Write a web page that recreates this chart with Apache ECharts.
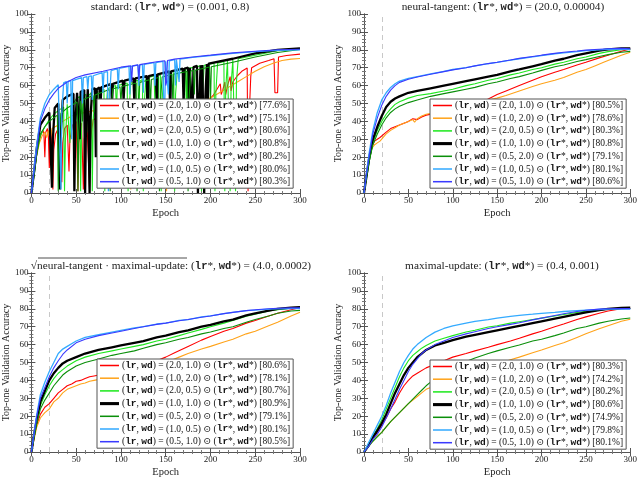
<!DOCTYPE html>
<html><head><meta charset="utf-8">
<script src="https://cdn.jsdelivr.net/npm/echarts@6/dist/echarts.min.js"></script>
<style>html,body{margin:0;padding:0;background:#fff}#c{width:640px;height:479px}</style>
</head><body><div id="c"></div>
<script>
// ---------- labels ----------
const pairs = ["(2.0, 1.0)", "(1.0, 2.0)", "(2.0, 0.5)", "(1.0, 1.0)", "(0.5, 2.0)", "(1.0, 0.5)", "(0.5, 1.0)"];
const finalsStd = ["77.6", "75.1", "80.6", "80.8", "80.2", "80.0", "80.3"];
const finalsNtk = ["80.5", "78.6", "80.3", "80.8", "79.1", "80.1", "80.6"];
const finalsSqrt = ["80.6", "78.1", "80.7", "80.9", "79.1", "80.1", "80.5"];
const finalsMup = ["80.3", "74.2", "80.2", "80.6", "74.9", "79.8", "80.1"];
const titleStd = "standard: ({m|lr}*, {m|wd}*) = (0.001, 0.8)";
const titleNtk = "neural-tangent: ({m|lr}*, {m|wd}*) = (20.0, 0.00004)";
const titleSqrt = "√neural-tangent · maximal-update: ({m|lr}*, {m|wd}*) = (4.0, 0.0002)";
const titleMup = "maximal-update: ({m|lr}*, {m|wd}*) = (0.4, 0.001)";
const warmupEpoch = 20;

// ---------- standard ----------
const stdRed = [[0,0],[3,12],[6,22],[9,30],[11,33],[13,35],[14,33],[15,20],[16,34],[18,36],[19,31],[20,14],[21,33],[22,35],[23,18],[24,2],[25,24],[27,33],[30,36],[32,37],[34,6],[35,28],[37,36],[40,38],[42,12],[43,30],[46,38],[50,40],[52,1],[53,28],[56,39],[58,2],[59,30],[62,40],[65,1],[66,30],[69,41],[75,42],[85,43],[95,44],[110,45],[125,45],[140,46],[160,47],[180,48],[195,50],[203,54.5],[211,61],[212,55],[214,58],[216,62],[217,55],[219,60],[222,65],[223,57],[225,62],[230,65.5],[235,68],[241,69.8],[242,1],[243,40],[245,65],[246,70],[255,72.5],[265,74],[271,75],[272,56],[275,56],[276,76],[285,76.8],[300,77.6]];
const stdOrange = [[0,0],[3,11],[6,21],[9,28],[12,32],[15,34],[17,31],[19,35],[21,30],[23,36],[25,37],[30,38],[35,40],[40,41.5],[45,43],[50,44],[60,45],[70,46],[80,46.5],[100,47],[110,47.5],[111,2],[112,40],[114,47.5],[130,48],[150,49],[151,1],[152,40],[154,49],[170,50.5],[185,51.5],[200,53],[210,56],[220,59],[230,62],[240,65],[250,68],[260,70.5],[270,72.5],[280,74],[290,74.8],[300,75.1]];
const stdLime = [[0,0],[3,10],[6,22],[10,32],[15,37],[20,41],[25,44],[30,46],[36,48],[37,1],[38,30],[40,49.5],[42,50],[43,28],[44,48],[50,52.5],[54,54],[55,1],[56,35],[58,54.5],[61,55],[62,34],[63,54],[67,56],[68,1],[69,40],[71,56.5],[74,57],[75,40],[76,57],[81,58],[82,1],[83,42],[85,58.2],[94,60],[95,45],[96,60],[107,61.5],[108,1],[109,45],[111,61.7],[119,63],[120,40],[121,62.5],[124,63.5],[125,1],[126,50],[128,64],[137,65.5],[138,50],[139,65.5],[144,66],[145,1],[146,52],[148,66.5],[159,68],[160,1],[161,55],[163,68.3],[172,69.5],[173,50],[174,69.5],[189,71],[190,1],[191,55],[193,71.3],[204,72.5],[205,1],[206,56],[208,72.5],[215,73.5],[216,1],[217,58],[219,73.8],[221,74],[222,1],[223,60],[225,74.5],[227,74.6],[228,1],[229,62],[231,75],[250,77],[275,79.5],[300,80.6]];
const stdBlack = [[0,0],[3,12],[6,25],[10,38],[15,42],[20,45],[22,46],[23,3],[24,30],[26,47.5],[30,50],[31,51],[32,2],[33,35],[35,52],[40,54],[47,55.5],[48,1],[49,38],[51,56],[53,56.5],[54,30],[55,56.5],[59,57.5],[60,0],[61,40],[63,58],[64,58],[65,0],[66,42],[68,58.2],[71,58.5],[72,20],[73,58],[76,59],[77,45],[78,59],[89,61],[90,50],[91,61],[102,62.8],[103,52],[104,62.8],[114,64],[115,50],[116,64],[129,65.3],[130,30],[131,65.3],[139,66.3],[140,52],[141,66.3],[154,68],[155,45],[156,68],[169,69.5],[170,50],[171,69.5],[175,70],[176,48],[177,70],[179,70.3],[180,40],[181,70.3],[185,71],[186,0],[187,45],[189,71.3],[190,45],[191,71.5],[192,71.5],[193,0],[194,50],[196,72],[197,50],[198,72.3],[200,72.5],[225,75],[250,78],[275,80],[300,80.8]];
const stdDark = [[0,0],[3,10],[6,22],[10,33],[15,37],[20,40],[25,42],[29,43.5],[30,1],[31,30],[33,44.5],[40,47.5],[51,50.8],[52,1],[53,35],[55,51.5],[56,52],[57,40],[58,52.2],[69,54.5],[70,45],[71,54.7],[87,57.8],[88,1],[89,45],[91,58.2],[99,59.3],[100,50],[101,59.5],[117,61.5],[118,1],[119,48],[121,61.8],[132,63.3],[133,48],[134,63.4],[142,64.5],[143,1],[144,50],[146,64.8],[157,66.3],[158,50],[159,66.4],[174,67.9],[175,1],[176,52],[178,68.2],[181,68.5],[182,55],[183,68.6],[199,70.4],[200,50],[201,70.5],[225,73],[250,76],[275,78.5],[300,80.2]];
const stdSky = [[0,0],[3,14],[6,27],[10,42],[15,50],[20,55],[25,58],[30,60.5],[32,61],[33,2],[34,45],[36,61.5],[39,62.3],[40,50],[41,62.3],[44,62.8],[45,30],[46,62.8],[56,64.5],[57,50],[58,64.5],[62,65],[63,58],[64,65],[67,65.5],[68,52],[69,65.5],[79,67.3],[80,56],[81,67.4],[85,67.8],[86,1],[87,50],[89,68.3],[96,69.5],[97,58],[98,69.6],[109,70.8],[110,55],[111,70.8],[119,71.4],[120,60],[121,71.5],[124,71.8],[125,56],[126,71.8],[137,72.8],[138,60],[139,72.8],[147,73.5],[148,38],[149,50],[150,73.6],[152,73.7],[153,55],[154,73.8],[160,74.5],[161,60],[162,74.5],[164,74.7],[165,62],[166,74.8],[180,75.8],[200,76.8],[225,78],[250,79],[275,79.7],[300,80]];
const stdBlue = [[0,0],[3,12],[6,24],[10,40],[15,47],[20,52],[25,55.5],[30,58.5],[40,62],[50,64.5],[60,66],[80,68],[100,70.3],[111,71],[112,62],[113,71],[119,71.6],[120,63],[121,71.7],[140,73.3],[149,73.9],[150,60],[151,62],[152,74],[160,74.8],[180,76],[200,77],[225,78.3],[250,79.2],[275,80],[300,80.3]];

// ---------- neural-tangent ----------
const ntkRed = [[0,0],[3,10],[6,20],[9,26],[12,29],[15,30],[18,31],[20,32],[25,34],[30,36],[35,37],[40,38],[45,39],[50,40],[55,41.5],[60,41],[65,42.5],[70,43.5],[80,44.5],[90,45.5],[100,46.5],[115,48],[130,50.5],[140,52.5],[150,55],[160,57],[175,60],[190,63],[200,65],[215,67.5],[225,69],[240,71.5],[250,73],[265,75.5],[275,77],[285,78.5],[300,80.5]];
const ntkOrange = [[0,0],[3,10],[6,19],[9,25],[12,27],[15,28],[18,29],[20,30],[25,33],[30,35],[35,36.5],[40,38],[45,39],[50,40],[55,41],[57,39.5],[60,41.5],[65,43],[70,44],[80,45],[90,46],[100,47],[115,48.5],[130,50.5],[140,52],[150,53],[160,54.5],[175,57],[190,59.5],[200,61],[215,63],[225,64.5],[240,67.5],[250,69],[260,71],[270,73],[280,75],[290,77],[300,78.6]];
const ntkLime = [[0,0],[3,9],[6,18],[10,28],[15,35],[20,40],[25,44],[30,47],[35,49.5],[40,51],[50,53],[60,54.5],[75,55.5],[90,57],[100,58],[115,60],[125,61],[140,63],[150,64],[165,66],[175,67],[190,69],[200,70],[215,72],[225,73],[240,75],[250,76],[265,78],[275,79],[290,80],[300,80.3]];
const ntkBlack = [[0,0],[3,10],[6,20],[10,30],[15,37],[20,43],[25,48],[30,51],[35,52.8],[40,54],[50,56],[60,57],[75,58.5],[90,60],[100,61],[115,62.5],[125,63.5],[140,65],[150,66],[165,68],[175,69],[190,70.8],[200,72],[215,74],[225,75],[240,77],[250,78],[265,79.5],[275,80.2],[290,80.8],[300,80.8]];
const ntkDark = [[0,0],[3,9],[6,18],[10,27],[15,33],[20,38],[25,42],[30,45],[35,47],[40,48.5],[50,50.5],[60,52],[75,54],[90,55.5],[100,56.5],[115,58],[125,59],[140,61],[150,62],[165,64],[175,65],[190,67],[200,68.5],[215,70.5],[225,71.5],[240,73.5],[250,74.5],[265,76.3],[275,77.3],[290,78.6],[300,79.1]];
const ntkSky = [[0,0],[3,12],[6,23],[10,35],[15,45],[20,52],[25,56],[30,59],[35,61],[40,62.5],[50,64],[60,65],[75,66.5],[90,68],[100,69],[115,70],[125,71],[140,72.3],[150,73],[165,74.2],[175,75],[190,76],[200,76.8],[215,77.8],[225,78.3],[240,79],[250,79.5],[265,80],[275,80.3],[290,80.3],[300,80.1]];
const ntkBlue = [[0,0],[3,11],[6,21],[10,33],[15,42],[20,49],[25,54],[30,57.5],[35,60],[40,61.8],[50,63.5],[60,64.8],[75,66.3],[90,67.8],[100,68.8],[115,70],[125,71],[140,72.3],[150,73],[165,74.3],[175,75.2],[190,76.3],[200,77],[215,78],[225,78.6],[240,79.3],[250,79.8],[265,80.3],[275,80.6],[290,80.8],[300,80.6]];

// ---------- sqrt(ntk * mup) ----------
const sqRed = [[0,0],[3,8],[6,15],[10,21],[15,25],[20,27],[25,30],[30,33],[35,35],[40,37],[45,38],[50,39.5],[55,40],[60,41],[65,42],[70,42.5],[80,43.5],[90,44.5],[100,45.5],[115,47],[130,49],[140,51],[150,53],[160,55.5],[175,59],[190,62.5],[200,64.5],[215,67.5],[225,69],[240,72],[250,73.5],[265,76],[275,77.5],[290,79.5],[300,80.6]];
const sqOrange = [[0,0],[3,7],[6,14],[10,19],[15,22],[20,24],[25,28],[30,30],[35,33],[40,35],[45,36],[50,37],[55,38],[60,38.5],[65,39.5],[70,40],[80,41],[90,42],[100,43],[120,45.5],[140,48.5],[155,51],[165,53],[175,55],[190,57.5],[200,59],[215,61.5],[225,63],[240,66],[250,67.5],[265,70.5],[275,72.5],[290,76],[300,78.1]];
const sqLime = [[0,0],[3,9],[6,17],[10,26],[15,32],[20,37],[25,41],[30,44],[35,46],[40,48],[50,51],[60,53],[75,55],[90,56.5],[100,57.5],[115,59],[125,60],[140,62],[150,63],[165,65],[175,66.5],[190,68.5],[200,70],[215,72],[225,73.5],[240,75.8],[250,77],[265,78.8],[275,79.5],[290,80.3],[300,80.7]];
const sqBlack = [[0,0],[3,10],[6,18],[10,28],[15,34],[20,40],[25,44],[30,47],[35,49.5],[40,51],[50,53],[60,55],[75,57],[90,58.5],[100,59.5],[115,61],[125,62],[140,64],[150,65],[165,67],[175,68],[190,70],[200,71],[215,73],[225,74],[240,76.3],[250,77.5],[265,79],[275,80],[290,80.7],[300,80.9]];
const sqDark = [[0,0],[3,8],[6,16],[10,24],[15,29],[20,33],[25,37],[30,40],[35,43],[40,45],[50,48],[60,50],[75,52],[90,54],[100,55],[115,56.5],[125,58],[140,60],[150,61],[165,63],[175,64],[190,66],[200,67],[215,69],[225,70],[240,72.5],[250,74],[265,76],[275,77.5],[290,78.8],[300,79.1]];
const sqSky = [[0,0],[3,11],[6,21],[10,32],[15,39],[20,45],[25,50],[30,55],[35,57.5],[40,59],[50,62],[60,64],[75,65.5],[90,67],[100,68],[115,69.3],[125,70],[140,71.5],[150,72],[165,73.5],[175,74],[190,75.5],[200,76],[215,77.3],[225,78],[240,79],[250,79.3],[265,79.8],[275,80],[290,80.1],[300,80.1]];
const sqBlue = [[0,0],[3,10],[6,20],[10,30],[15,36],[20,42],[25,47],[30,51],[35,54.5],[40,57],[50,61],[60,63],[75,65],[90,66.5],[100,67.5],[115,69],[125,70],[140,71.3],[150,72],[165,73.3],[175,74],[190,75.3],[200,76],[215,77.3],[225,78],[240,79],[250,79.5],[265,80],[275,80.3],[290,80.5],[300,80.5]];

// ---------- maximal-update ----------
const muRed = [[0,0],[5,4],[10,8],[15,11],[20,15],[25,19],[30,24],[35,28],[40,33],[45,37],[50,40],[55,42.5],[60,44],[70,47],[80,49],[90,51],[100,53],[115,55],[125,56.5],[140,58.5],[150,60],[165,62],[175,63.5],[190,66],[200,67.5],[215,70],[225,71.5],[240,74],[250,75.5],[265,77.5],[275,78.8],[290,80],[300,80.3]];
const muOrange = [[0,0],[5,3],[10,6],[15,9],[20,11],[25,14],[30,17],[35,19.5],[40,22],[45,24.5],[50,27],[55,29],[60,31],[65,33],[70,35],[75,36],[80,37],[90,39],[100,41],[115,43.5],[125,45],[140,47.5],[150,49],[165,51.5],[175,53],[190,55.5],[200,57],[215,59.5],[225,61],[240,64],[250,66],[265,68.8],[275,70.5],[290,73],[300,74.2]];
const muLime = [[0,0],[5,4],[10,9],[15,13],[20,18],[25,24],[30,30],[35,36],[40,42],[45,47],[50,51],[55,54],[60,56],[65,58],[70,59.5],[80,62],[90,63.5],[100,65],[115,67],[125,68],[140,69.8],[150,70.5],[165,72],[175,72.8],[190,74],[200,74.8],[215,76],[225,76.8],[240,78],[250,78.6],[265,79.4],[275,79.8],[290,80.1],[300,80.2]];
const muBlack = [[0,0],[5,3.5],[10,8],[15,12],[20,16],[25,21],[30,27],[35,33],[40,38],[45,43],[50,47],[55,50],[60,53],[65,55],[70,57],[80,59.5],[90,61],[100,62.5],[115,64.5],[125,65.5],[140,67],[150,68],[165,69.5],[175,70.5],[190,72],[200,73],[215,74.5],[225,75.5],[240,77],[250,78],[265,79.3],[275,80],[290,80.5],[300,80.6]];
const muDark = [[0,0],[5,3],[10,6],[15,8.5],[20,11],[25,14],[30,17],[35,19.5],[40,22],[45,24.5],[50,27],[55,29.5],[60,32],[65,34.5],[70,37],[75,39],[80,41],[90,44],[100,47],[115,50.5],[125,52.5],[140,55],[150,56.5],[165,58.5],[175,59.8],[190,62],[200,63],[215,65],[225,66.5],[240,69],[250,70],[265,72],[275,73],[290,74.3],[300,74.9]];
const muSky = [[0,0],[5,5],[10,10],[15,15],[20,20],[25,26],[30,33],[35,39],[40,45],[45,50],[50,54],[55,57.5],[60,60],[65,62],[70,64],[80,67],[90,69],[100,70.5],[115,72],[125,73],[140,74],[150,74.8],[165,75.8],[175,76.3],[190,77],[200,77.5],[215,78],[225,78.5],[240,79],[250,79.3],[265,79.6],[275,79.8],[290,79.8],[300,79.8]];
const muBlue = [[0,0],[5,3],[10,7],[15,10],[20,14],[25,19],[30,24],[35,29.5],[40,35],[45,40],[50,45],[55,49],[60,52],[65,55],[70,57],[80,60],[90,62],[100,64],[115,66],[125,67.2],[140,69],[150,70],[165,71.3],[175,72.2],[190,73.8],[200,74.8],[215,76.3],[225,77.2],[240,78.5],[250,79.2],[265,79.8],[275,80],[290,80.1],[300,80.1]];

// ---------- chart ----------
const SERIF = "'Liberation Serif', 'DejaVu Serif', serif";
const MONO = "'Liberation Mono', 'DejaVu Sans Mono', monospace";
const colors = ['#ff0000', '#ffa31a', '#1ee81e', '#000000', '#0a8f0a', '#33aaff', '#3a3aff'];
const widths = [1.1, 1.1, 1.1, 2.3, 1.1, 1.3, 1.1];
const thinIcon = 'path://M0,0H40V3.2H0Z';
const thickIcon = 'path://M0,0H40V6.5H0Z';

const panels = [
  {key:'std', title:titleStd, finals:finalsStd, data:[stdRed,stdOrange,stdLime,stdBlack,stdDark,stdSky,stdBlue],
   grid:{left:31, top:14, width:269, height:179}, titleX:165, titleY:-3, legend:{left:97, top:99}},
  {key:'ntk', title:titleNtk, finals:finalsNtk, data:[ntkRed,ntkOrange,ntkLime,ntkBlack,ntkDark,ntkSky,ntkBlue],
   grid:{left:364, top:14, width:268, height:179}, titleX:498, titleY:-3, legend:{left:430, top:99}},
  {key:'sqrt', title:titleSqrt, finals:finalsSqrt, data:[sqRed,sqOrange,sqLime,sqBlack,sqDark,sqSky,sqBlue],
   grid:{left:31, top:273, width:269, height:180}, titleX:166, titleY:256, legend:{left:97, top:359}},
  {key:'mup', title:titleMup, finals:finalsMup, data:[muRed,muOrange,muLime,muBlack,muDark,muSky,muBlue],
   grid:{left:364, top:273, width:268, height:180}, titleX:497, titleY:256, legend:{left:430, top:360}}
];

const monoRich = {m:{fontFamily:MONO, fontSize:9.5, fontWeight:'bold', color:'#111'}};
const grids = [], xAxes = [], yAxes = [], series = [], titles = [], legends = [];
const axisCommon = {
  axisLine:{show:true, lineStyle:{color:'#555', width:1}},
  axisTick:{show:true, inside:true, length:4, lineStyle:{color:'#555'}},
  minorTick:{show:true, splitNumber:5, length:2, lineStyle:{color:'#777'}},
  splitLine:{show:false}
};
panels.forEach((p, pi) => {
  grids.push(Object.assign({containLabel:false}, p.grid));
  const xb = Object.assign({}, axisCommon, {type:'value', gridIndex:pi, min:0, max:300, interval:50, position:'bottom',
    name:'Epoch', nameLocation:'middle', nameGap:15, nameTextStyle:{fontFamily:SERIF, fontSize:10.5, color:'#222'},
    axisLabel:{fontFamily:SERIF, fontSize:9, color:'#222', margin:3}});
  const xt = Object.assign({}, axisCommon, {type:'value', gridIndex:pi, min:0, max:300, interval:50, position:'top', axisLabel:{show:false}});
  const yl = Object.assign({}, axisCommon, {type:'value', gridIndex:pi, min:0, max:100, interval:10, position:'left',
    name:'Top-one Validation Accuracy', nameLocation:'middle', nameGap:18, nameTextStyle:{fontFamily:SERIF, fontSize:10, color:'#222'},
    axisLabel:{fontFamily:SERIF, fontSize:9, color:'#222', margin:3}});
  const yr = Object.assign({}, axisCommon, {type:'value', gridIndex:pi, min:0, max:100, interval:10, position:'right', axisLabel:{show:false}});
  xAxes.push(xb, xt); yAxes.push(yl, yr);
  const items = [];
  p.data.forEach((d, si) => {
    const nm = p.key + '_' + si;
    items.push({name:nm, icon: si === 3 ? thickIcon : thinIcon, itemStyle:{color:colors[si], borderWidth:0}});
    const s = {type:'line', name:nm, xAxisIndex:2*pi, yAxisIndex:2*pi, data:d, symbol:'none', animation:false,
      color:colors[si], lineStyle:{color:colors[si], width:widths[si]}, z:2, silent:true};
    if (si === 0) {
      s.markLine = {silent:true, symbol:'none', label:{show:false}, lineStyle:{color:'#c8c8c8', type:[5,4], width:1},
        data:[{xAxis:warmupEpoch}], z:1};
    }
    series.push(s);
  });
  titles.push({text:p.title, left:p.titleX, top:p.titleY, textAlign:'center',
    textStyle:{fontFamily:SERIF, fontSize:11.3, fontWeight:'normal', color:'#222', rich:{m:{fontFamily:MONO, fontSize:10.5, fontWeight:'bold', color:'#222'}}}});
  legends.push({data:items, left:p.legend.left, top:p.legend.top, orient:'vertical', selectedMode:false, z:50,
    backgroundColor:'#fff', borderColor:'#555', borderWidth:1, borderRadius:0, padding:[1,3,1,3],
    itemGap:1.7, itemWidth:19, itemHeight:10, symbolKeepAspect:true,
    formatter:(name) => {
      const si = +name.split('_')[1];
      return '({m|lr}, {m|wd}) = ' + pairs[si] + ' ⊙ ({m|lr}*, {m|wd}*) [' + p.finals[si] + '%]';
    },
    textStyle:{fontFamily:SERIF, fontSize:9.5, color:'#111', lineHeight:11, padding:[0,0,0,-2], rich:monoRich}});
});

const chart = echarts.init(document.getElementById('c'), null, {renderer:'canvas'});
chart.setOption({
  backgroundColor:'#fff',
  animation:false,
  title:titles, grid:grids, xAxis:xAxes, yAxis:yAxes, legend:legends, series:series,
  graphic:[{type:'line', shape:{x1:38, y1:258, x2:187, y2:258}, style:{stroke:'#222', lineWidth:0.8}, silent:true, z:60}]
});
</script></body></html>
